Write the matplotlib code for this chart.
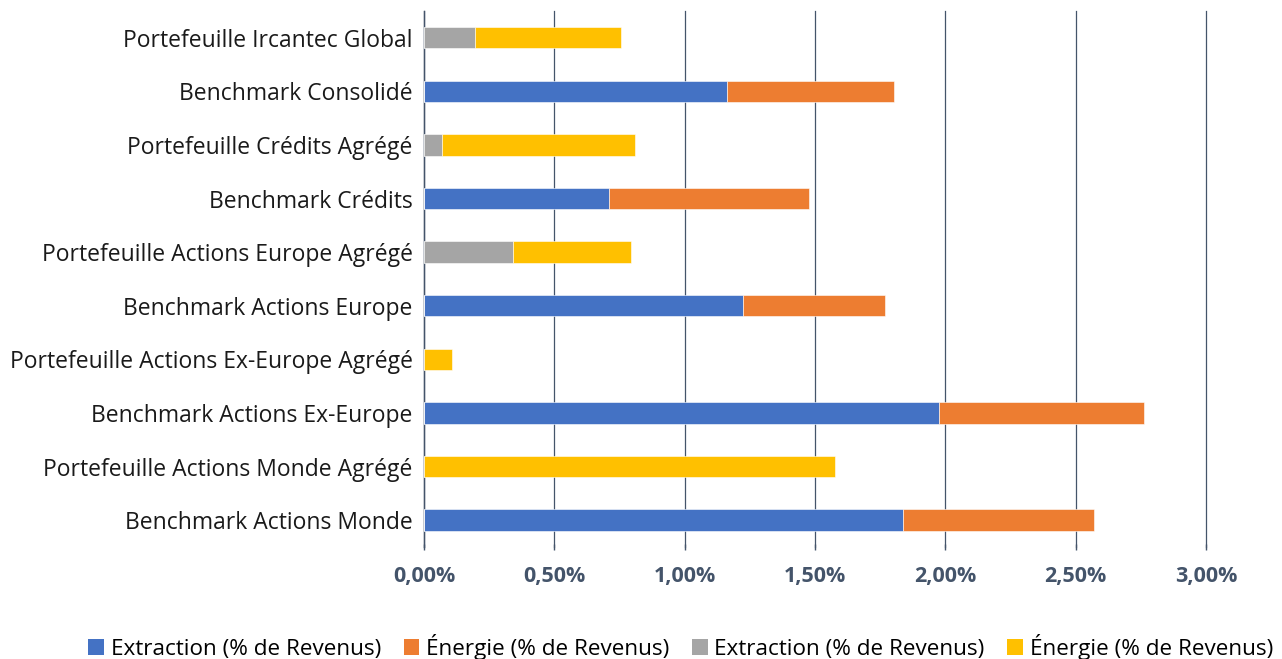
import matplotlib.pyplot as plt
import numpy as np
from matplotlib.patches import Patch

categories = [
    "Portefeuille Ircantec Global",
    "Benchmark Consolidé",
    "Portefeuille Crédits Agrégé",
    "Benchmark Crédits",
    "Portefeuille Actions Europe Agrégé",
    "Benchmark Actions Europe",
    "Portefeuille Actions Ex-Europe Agrégé",
    "Benchmark Actions Ex-Europe",
    "Portefeuille Actions Monde Agrégé",
    "Benchmark Actions Monde",
]

# benchmark rows (blue/orange), % of revenues
bench_extraction = [0, 1.162, 0, 0.710, 0, 1.224, 0, 1.975, 0, 1.837]
bench_energie = [0, 0.641, 0, 0.767, 0, 0.544, 0, 0.787, 0, 0.733]
# portfolio rows (grey/yellow)
ptf_extraction = [0.196, 0, 0.069, 0, 0.341, 0, 0.0, 0, 0.0, 0]
ptf_energie = [0.560, 0, 0.740, 0, 0.453, 0, 0.107, 0, 1.577, 0]

xticks = [0, 0.5, 1.0, 1.5, 2.0, 2.5, 3.0]
xtick_labels = ["0,00%", "0,50%", "1,00%", "1,50%", "2,00%", "2,50%", "3,00%"]

series_labels = [
    "Extraction (% de Revenus)",
    "Énergie (% de Revenus)",
    "Extraction (% de Revenus)",
    "Énergie (% de Revenus)",
]
colors = ["#4472c4", "#ed7d31", "#a5a5a5", "#ffc000"]

plt.rcParams["font.family"] = ["Open Sans", "DejaVu Sans"]

fig = plt.figure(figsize=(12.82, 6.59), dpi=100)
ax = fig.add_axes([0.3307, 0.170, 0.61, 0.8134])

y = np.arange(len(categories))
h = 0.40
be = np.array(bench_extraction)
pe = np.array(ptf_extraction)
ax.barh(y, be, height=h, color=colors[0], edgecolor="white", linewidth=0.4, zorder=3)
ax.barh(y, bench_energie, left=be, height=h, color=colors[1], edgecolor="white", linewidth=0.4, zorder=3)
ax.barh(y, pe, height=h, color=colors[2], edgecolor="white", linewidth=0.4, zorder=3)
ax.barh(y, ptf_energie, left=pe, height=h, color=colors[3], edgecolor="white", linewidth=0.4, zorder=3)

ax.set_xlim(0, 3.0)
ax.set_ylim(len(categories) - 0.5, -0.5)
ax.set_yticks(y)
ax.set_yticklabels(categories, fontsize=16.5, color="#1a1a1a")
ax.tick_params(axis="y", length=0, pad=8)

ax.set_xticks(xticks)
ax.set_xticklabels(xtick_labels, fontsize=15.5, fontweight="bold", color="#44546a")
ax.tick_params(axis="x", length=5, width=1, color="#44546a", pad=11, direction="inout")

ax.grid(axis="x", color="#44546a", linewidth=0.9, zorder=0)
for line in ax.get_xgridlines():
    line.set_clip_on(False)
for side in ["top", "right", "bottom"]:
    ax.spines[side].set_visible(False)
ax.spines["left"].set_color("#44546a")
ax.spines["left"].set_linewidth(1.0)

handles = [Patch(facecolor=c, edgecolor="none") for c in colors]
fig.legend(
    handles,
    series_labels,
    loc="lower center",
    bbox_to_anchor=(0.531, -0.032),
    ncol=4,
    frameon=False,
    fontsize=16.2,
    handlelength=0.7,
    handleheight=0.7,
    handletextpad=0.3,
    columnspacing=1.0,
)

fig.savefig("out.png", dpi=100)
